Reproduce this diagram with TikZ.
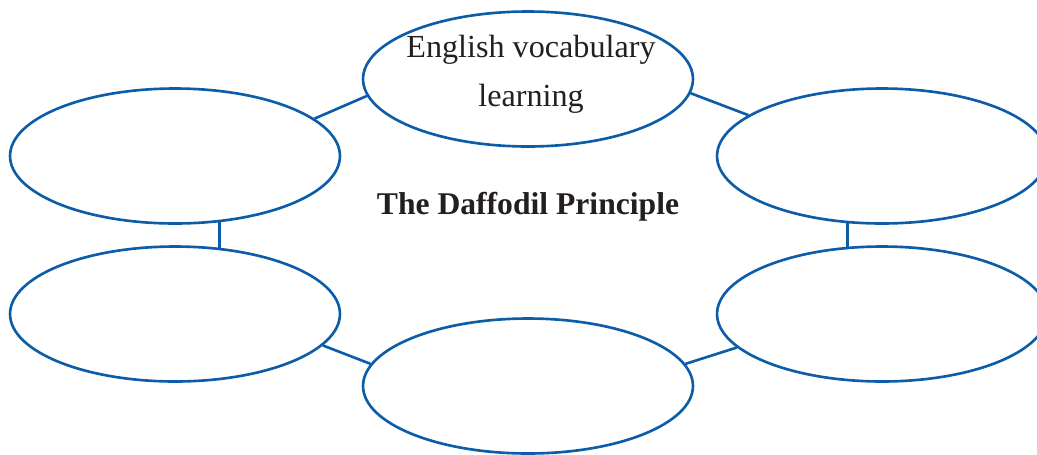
\documentclass[tikz,border=0pt]{standalone}
\usepackage{fontspec}
\setmainfont{Liberation Serif}
\usetikzlibrary{shapes.geometric}
\definecolor{petal}{RGB}{12,92,168}
\definecolor{ink}{RGB}{35,31,32}

\begin{document}
\begin{tikzpicture}[x=0.02cm,y=-0.02cm]
	\tikzset{bloom/.style={draw=petal,line width=1.5pt,ellipse,inner sep=0pt,
		minimum width=6.6cm,minimum height=2.7cm},
		word/.style={text=ink,align=center,font=\fontsize{18.3}{28}\selectfont},
		stem/.style={draw=petal,line width=1.5pt}}
	\useasboundingbox (0,0) rectangle (1037,454);

	    \node[bloom] (top) at (528,79) {};
	    \node[bloom] (lup) at (175,156) {};
	    \node[bloom] (llo) at (175,314) {};
	    \node[bloom] (bot) at (528,386) {};
	    \node[bloom] (rup) at (882,156) {};
	    \node[bloom] (rlo) at (882,314) {};

	    \node[word] (topword) at (531,74) {English vocabulary\\learning};
	    \node[word,font=\fontsize{18}{22}\selectfont\bfseries] (title) at (528,207) {The Daffodil Principle};

	    \draw[stem] (top.186) -- (lup.15);
	    \draw[stem] (lup.304) -- (llo.56);
	    \draw[stem] (llo.348) -- (bot.172);
	    \draw[stem] (top.355) -- (rup.163);
	    \draw[stem] (rup.243) -- (rlo.117);
	    \draw[stem] (rlo.193) -- (bot.8);

	\end{tikzpicture}
\end{document}
